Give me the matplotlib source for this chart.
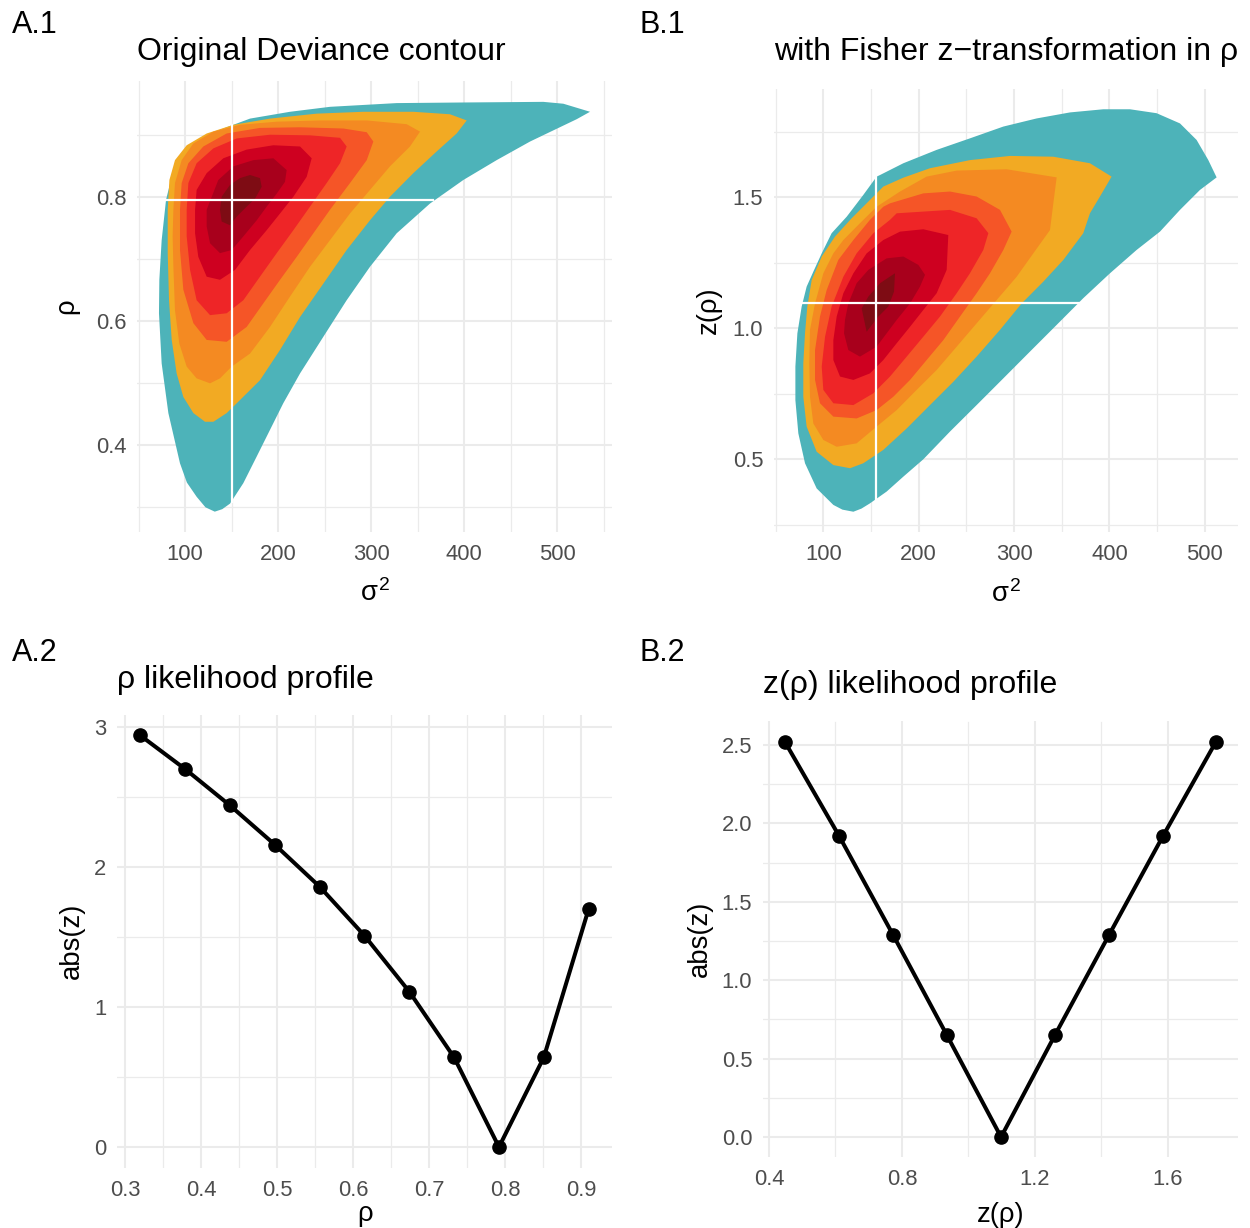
import matplotlib
matplotlib.use("Agg")
import matplotlib.pyplot as plt

plt.rcParams["font.family"] = ["Liberation Sans", "DejaVu Sans"]
plt.rcParams["mathtext.fontset"] = "custom"
plt.rcParams["mathtext.rm"] = "Liberation Sans"
plt.rcParams["mathtext.it"] = "Liberation Sans"

# contour bands, outer to inner: (sigma^2, rho)
a1_teal = [(132, 0.293), (122, 0.300), (112.5, 0.317), (102, 0.340), (94.6, 0.371), (82.1, 0.452), (74.9, 0.532),
           (72.0, 0.613), (72.4, 0.667), (74.9, 0.731), (79.6, 0.796), (85.7, 0.833), (94.6, 0.863), (109, 0.887),
           (126.9, 0.903), (148.4, 0.915), (169.9, 0.927), (212.9, 0.938), (255.9, 0.946), (327.6, 0.952),
           (399.3, 0.953), (485.3, 0.954), (506.8, 0.951), (535.5, 0.938), (521.1, 0.926), (471, 0.890),
           (435.1, 0.860), (399.3, 0.828), (363.4, 0.790), (327.6, 0.742), (298.9, 0.688), (273.8, 0.634),
           (248.7, 0.575), (223.7, 0.516), (205.7, 0.468), (191.4, 0.425), (177.1, 0.382), (162.7, 0.339),
           (148.4, 0.306), (140, 0.297)]
a1_yellow = [(81.4, 0.780), (83.2, 0.828), (89.2, 0.860), (101.8, 0.884), (123.3, 0.903), (152.0, 0.917),
             (191.4, 0.927), (241.6, 0.935), (291.8, 0.938), (345.5, 0.938), (384.9, 0.934), (402.9, 0.924),
             (392.1, 0.903), (370.6, 0.874), (345.5, 0.839), (320.4, 0.801), (298.9, 0.763), (273.8, 0.715),
             (248.8, 0.661), (223.7, 0.607), (202.2, 0.554), (180.6, 0.505), (159.1, 0.473), (144.8, 0.452),
             (130.5, 0.438), (121.5, 0.438), (109.0, 0.452), (98.2, 0.478), (91.0, 0.516), (85.7, 0.570),
             (82.8, 0.634), (81.4, 0.710)]
a1_orange = [(87.5, 0.780), (89.2, 0.823), (96.4, 0.860), (109.0, 0.887), (130.5, 0.906), (159.1, 0.917),
             (198.6, 0.922), (245.2, 0.924), (295.4, 0.924), (338.3, 0.918), (352.7, 0.906), (341.9, 0.882),
             (320.4, 0.850), (298.9, 0.812), (277.4, 0.774), (255.9, 0.731), (234.4, 0.688), (212.9, 0.640),
             (191.4, 0.591), (169.9, 0.548), (150.2, 0.527), (137.6, 0.508), (126.9, 0.500), (112.5, 0.508),
             (101.8, 0.527), (93.9, 0.564), (89.2, 0.618), (87.5, 0.688), (86.7, 0.737)]
a1_redorange = [(94.6, 0.780), (96.4, 0.823), (103.6, 0.855), (119.7, 0.882), (144.8, 0.903), (180.6, 0.912),
                (223.7, 0.913), (270.3, 0.911), (295.4, 0.905), (302.5, 0.890), (295.4, 0.860), (277.4, 0.823),
                (255.9, 0.780), (238.0, 0.742), (220.1, 0.704), (202.2, 0.667), (184.2, 0.629), (166.3, 0.591),
                (144.8, 0.567), (123.3, 0.570), (109.0, 0.597), (98.2, 0.651), (94.6, 0.715)]
a1_red = [(101.8, 0.780), (103.6, 0.823), (112.5, 0.855), (130.5, 0.879), (155.6, 0.895), (191.4, 0.901),
          (234.4, 0.900), (266.7, 0.896), (273.8, 0.882), (266.7, 0.855), (252.3, 0.823), (234.4, 0.785),
          (216.5, 0.747), (198.6, 0.710), (180.6, 0.672), (162.7, 0.634), (144.8, 0.613), (126.9, 0.610),
          (112.5, 0.634), (105.4, 0.683), (101.8, 0.737)]
a1_crimson = [(110.8, 0.780), (112.5, 0.812), (123.3, 0.839), (141.2, 0.863), (166.3, 0.877), (195.0, 0.884),
              (223.7, 0.882), (236.2, 0.863), (230.8, 0.833), (216.5, 0.801), (202.2, 0.774), (187.8, 0.747),
              (169.9, 0.715), (153.8, 0.683), (137.6, 0.667), (123.3, 0.672), (114.3, 0.704), (110.8, 0.742)]
a1_dark = [(123.3, 0.780), (135.8, 0.828), (152.0, 0.850), (173.5, 0.860), (195.0, 0.863), (209.3, 0.844),
           (207.5, 0.825), (198.6, 0.806), (187.8, 0.785), (177.1, 0.763), (162.7, 0.737), (150.2, 0.715),
           (137.6, 0.710), (126.9, 0.726), (123.3, 0.753)]
a1_darkest = [(137.6, 0.780), (139.4, 0.801), (148.4, 0.820), (159.1, 0.831), (169.9, 0.836), (180.6, 0.831),
              (182.4, 0.817), (175.3, 0.798), (166.3, 0.785), (155.6, 0.769), (148.4, 0.755), (139.4, 0.761)]

# same bands with z(rho) on the y axis: (sigma^2, z)
b1_teal = [(131.5, 0.300), (120, 0.308), (110.5, 0.326), (93.0, 0.389), (80.8, 0.485), (73.8, 0.599),
           (70.7, 0.726), (70.7, 0.854), (72.8, 0.981), (77.3, 1.083), (82.5, 1.159), (89.5, 1.216), (98.3, 1.286),
           (108.7, 1.363), (124.5, 1.426), (141.9, 1.509), (155.9, 1.579), (159.4, 1.585), (183.9, 1.630),
           (218.8, 1.681), (253.7, 1.725), (288.7, 1.770), (323.6, 1.801), (358.6, 1.824), (393.5, 1.836),
           (421.5, 1.836), (449.4, 1.821), (473.9, 1.782), (491.3, 1.719), (503.6, 1.642), (512.3, 1.576),
           (494.8, 1.528), (473.9, 1.452), (452.9, 1.369), (428.4, 1.299), (400.5, 1.210), (372.5, 1.115),
           (344.6, 1.013), (316.6, 0.911), (288.7, 0.809), (260.7, 0.707), (232.8, 0.606), (204.8, 0.500),
           (183.9, 0.434), (166.4, 0.377), (148.9, 0.332), (140, 0.312)]
b1_yellow = [(83.2, 1.083), (87.8, 1.184), (98.3, 1.274), (112.2, 1.350), (129.7, 1.420), (148.9, 1.490),
             (162.9, 1.541), (183.9, 1.575), (211.8, 1.611), (253.7, 1.642), (295.7, 1.658), (341.1, 1.655),
             (379.5, 1.630), (402.2, 1.579), (390.0, 1.503), (379.5, 1.439), (372.5, 1.363), (351.6, 1.261),
             (330.6, 1.178), (307.9, 1.095), (285.2, 0.994), (260.7, 0.892), (236.3, 0.796), (211.8, 0.707),
             (187.4, 0.618), (162.9, 0.536), (141.9, 0.485), (128.0, 0.466), (110.5, 0.478), (93.0, 0.529),
             (82.5, 0.625), (79.0, 0.739), (79.0, 0.866), (80.8, 0.981)]
b1_orange = [(208.3, 1.579), (239.8, 1.602), (292.2, 1.607), (344.6, 1.576), (341.1, 1.477), (337.6, 1.375),
             (320.1, 1.286), (302.7, 1.197), (281.7, 1.108), (260.7, 1.019), (239.8, 0.930), (218.8, 0.841),
             (197.8, 0.765), (176.9, 0.688), (155.9, 0.625), (134.9, 0.561), (114.0, 0.548), (100.0, 0.574),
             (89.5, 0.637), (86.0, 0.739), (85.3, 0.866), (86.0, 0.994), (91.3, 1.095), (100.0, 1.210),
             (110.5, 1.286), (121.0, 1.337), (138.4, 1.401), (155.9, 1.464), (180.4, 1.522)]
b1_redorange = [(169.9, 1.477), (204.8, 1.515), (232.8, 1.522), (260.7, 1.503), (285.2, 1.452), (297.4, 1.369),
                (288.7, 1.299), (274.7, 1.210), (260.7, 1.134), (243.3, 1.045), (225.8, 0.955), (208.3, 0.879),
                (190.9, 0.803), (173.4, 0.739), (155.9, 0.688), (134.9, 0.656), (110.5, 0.663), (96.5, 0.714),
                (91.3, 0.803), (91.3, 0.917), (96.5, 1.045), (103.5, 1.146), (115.7, 1.261), (131.5, 1.337),
                (148.9, 1.414), (162.9, 1.464)]
b1_red = [(176.9, 1.439), (232.8, 1.452), (260.7, 1.420), (273.0, 1.363), (267.7, 1.299), (253.7, 1.210),
          (239.8, 1.134), (222.3, 1.045), (204.8, 0.968), (187.4, 0.892), (169.9, 0.816), (152.4, 0.752),
          (131.5, 0.707), (110.5, 0.714), (100.0, 0.765), (98.3, 0.854), (101.8, 0.968), (108.7, 1.083),
          (121.0, 1.197), (134.9, 1.286), (152.4, 1.363), (169.9, 1.414)]
b1_crimson = [(180.4, 1.369), (204.8, 1.378), (231.0, 1.356), (229.3, 1.223), (218.8, 1.134), (204.8, 1.070),
              (190.9, 1.006), (176.9, 0.943), (162.9, 0.879), (148.9, 0.828), (131.5, 0.803), (117.5, 0.816),
              (110.5, 0.879), (110.5, 0.955), (114.0, 1.045), (121.0, 1.134), (131.5, 1.210), (145.4, 1.286),
              (162.9, 1.337)]
b1_dark = [(122.7, 1.032), (126.2, 1.095), (134.9, 1.172), (147.2, 1.223), (166.4, 1.267), (183.9, 1.274),
           (199.6, 1.242), (206.6, 1.204), (201.3, 1.159), (190.9, 1.095), (176.9, 1.032), (166.4, 0.981),
           (155.9, 0.930), (138.4, 0.892), (126.2, 0.917), (121.7, 0.981)]
b1_darkest = [(145.4, 0.987), (140.2, 1.076), (147.2, 1.121), (159.4, 1.172), (175.1, 1.210), (174.1, 1.140),
              (168.1, 1.083), (157.7, 1.045)]

band_colors = ["#4DB3B9", "#F2AA23", "#F48A22", "#F55527", "#EE2527", "#CE0020", "#A8001C", "#7E0C14"]

# estimate cross lines
a1_hat_s2, a1_hat_rho = 150.2, 0.795
a1_vline_rho = (0.309, 0.917)
a1_hline_s2 = (78.5, 367)
b1_hat_s2, b1_hat_z = 155.2, 1.098
b1_vline_z = (0.326, 1.579)
b1_hline_s2 = (79, 374)

# likelihood profiles
a2_rho = [0.320, 0.379, 0.438, 0.497, 0.556, 0.615, 0.674, 0.733, 0.792, 0.851, 0.910]
a2_absz = [2.94, 2.70, 2.44, 2.16, 1.86, 1.51, 1.11, 0.64, 0.00, 0.64, 1.70]
b2_z = [0.448, 0.611, 0.773, 0.935, 1.098, 1.260, 1.423, 1.585, 1.744]
b2_absz = [2.52, 1.92, 1.29, 0.65, 0.00, 0.65, 1.29, 1.92, 2.52]

W, H = 1250, 1228
fig = plt.figure(figsize=(W / 100, H / 100), dpi=100)


def panel(left, top, right, bottom):
    return fig.add_axes([left / W, 1 - bottom / H, (right - left) / W, (bottom - top) / H])


def style(ax, xmaj, xlab, xmin, ymaj, ylab, ymin):
    ax.set_xticks(xmaj)
    ax.set_xticklabels(xlab)
    ax.set_xticks(xmin, minor=True)
    ax.set_yticks(ymaj)
    ax.set_yticklabels(ylab)
    ax.set_yticks(ymin, minor=True)
    ax.set_axisbelow(True)
    ax.grid(which="major", color="#EBEBEB", lw=1.5)
    ax.grid(which="minor", color="#EBEBEB", lw=0.9)
    for s in ax.spines.values():
        s.set_visible(False)
    ax.tick_params(which="both", length=0, labelsize=15.8, labelcolor="#4D4D4D")
    ax.tick_params(axis="x", pad=9)
    ax.tick_params(axis="y", pad=8)


def draw_bands(ax, bands):
    for pts, c in zip(bands, band_colors):
        ax.fill([p[0] for p in pts], [p[1] for p in pts], color=c, lw=0)


# A.1
ax = panel(137.4, 81.4, 611.6, 531.5)
draw_bands(ax, [a1_teal, a1_yellow, a1_orange, a1_redorange, a1_red, a1_crimson, a1_dark, a1_darkest])
ax.plot([a1_hat_s2, a1_hat_s2], a1_vline_rho, color="white", lw=1.6)
ax.plot(a1_hline_s2, [a1_hat_rho, a1_hat_rho], color="white", lw=1.6)
ax.set_xlim(48.8, 558.7)
ax.set_ylim(0.261, 0.987)
style(ax, [100, 200, 300, 400, 500], ["100", "200", "300", "400", "500"], [50, 150, 250, 350, 450, 550],
      [0.4, 0.6, 0.8], ["0.4", "0.6", "0.8"], [0.3, 0.5, 0.7, 0.9])
ax.set_xlabel(r"$\sigma^2$", fontsize=19.8, labelpad=10.5)
ax.set_ylabel("ρ", fontsize=19.8, labelpad=11.5)

# B.1
ax = panel(774.3, 89.1, 1237.7, 531.9)
draw_bands(ax, [b1_teal, b1_yellow, b1_orange, b1_redorange, b1_red, b1_crimson, b1_dark, b1_darkest])
ax.plot([b1_hat_s2, b1_hat_s2], b1_vline_z, color="white", lw=1.6)
ax.plot(b1_hline_s2, [b1_hat_z, b1_hat_z], color="white", lw=1.6)
ax.set_xlim(48.6, 534.4)
ax.set_ylim(0.223, 1.913)
style(ax, [100, 200, 300, 400, 500], ["100", "200", "300", "400", "500"], [50, 150, 250, 350, 450],
      [0.5, 1.0, 1.5], ["0.5", "1.0", "1.5"], [0.25, 0.75, 1.25, 1.75])
ax.set_xlabel(r"$\sigma^2$", fontsize=19.8, labelpad=10.5)
ax.set_ylabel("z(ρ)", fontsize=19.8, labelpad=8)

# A.2
ax = panel(117.4, 714.8, 612.2, 1167.6)
ax.plot(a2_rho, a2_absz, color="black", lw=2.9, marker="o", markersize=9.5)
ax.set_xlim(0.290, 0.941)
ax.set_ylim(-0.147, 3.087)
style(ax, [0.3, 0.4, 0.5, 0.6, 0.7, 0.8, 0.9], ["0.3", "0.4", "0.5", "0.6", "0.7", "0.8", "0.9"],
      [0.35, 0.45, 0.55, 0.65, 0.75, 0.85], [0, 1, 2, 3], ["0", "1", "2", "3"], [0.5, 1.5, 2.5])
ax.set_xlabel("ρ", fontsize=19.8, labelpad=0)
ax.set_ylabel("abs(z)", fontsize=19.8, labelpad=6.5)

# B.2
ax = panel(763.3, 721.5, 1237.5, 1156.8)
ax.plot(b2_z, b2_absz, color="black", lw=2.9, marker="o", markersize=9.5)
ax.set_xlim(0.383, 1.809)
ax.set_ylim(-0.126, 2.65)
style(ax, [0.4, 0.8, 1.2, 1.6], ["0.4", "0.8", "1.2", "1.6"], [0.6, 1.0, 1.4],
      [0.0, 0.5, 1.0, 1.5, 2.0, 2.5], ["0.0", "0.5", "1.0", "1.5", "2.0", "2.5"],
      [0.25, 0.75, 1.25, 1.75, 2.25])
ax.set_xlabel("z(ρ)", fontsize=19.8, labelpad=8.5)
ax.set_ylabel("abs(z)", fontsize=19.8, labelpad=6.5)

# titles and tags
fig.text(137.4 / W, 1 - 52 / H, "Original Deviance contour", fontsize=23, va="center", ha="left")
fig.text(774.3 / W, 1 - 52 / H, "with Fisher z\u2212transformation in ρ", fontsize=23, va="center", ha="left")
fig.text(117.4 / W, 1 - 680 / H, "ρ likelihood profile", fontsize=23, va="center", ha="left")
fig.text(763.3 / W, 1 - 685 / H, "z(ρ) likelihood profile", fontsize=23, va="center", ha="left")
for x, y, t in [(12, 25, "A.1"), (640, 25, "B.1"), (12, 653, "A.2"), (640, 653, "B.2")]:
    fig.text(x / W, 1 - y / H, t, fontsize=22, va="center", ha="left")

fig.savefig("out.png", dpi=100)
